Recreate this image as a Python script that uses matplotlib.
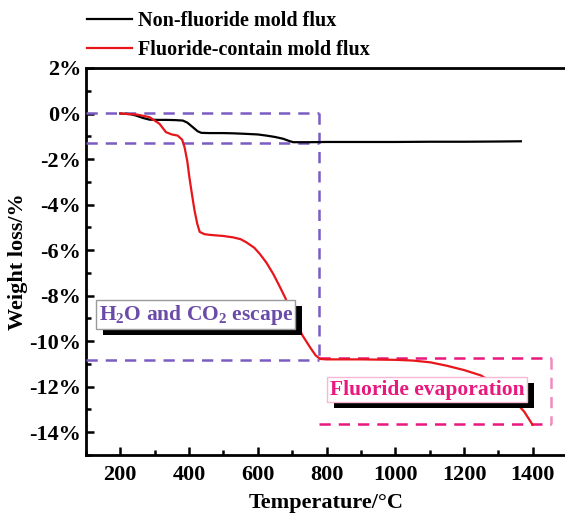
"""TGA weight loss curves for non-fluoride and fluoride-containing mold flux."""
import matplotlib
matplotlib.use("Agg")
import matplotlib.pyplot as plt
import matplotlib.transforms as mtransforms
from matplotlib.patches import Rectangle
from matplotlib.ticker import MultipleLocator, FuncFormatter

plt.rcParams['font.family'] = ['Liberation Serif', 'DejaVu Serif']
plt.rcParams['font.weight'] = 'bold'
plt.rcParams['mathtext.fontset'] = 'custom'
plt.rcParams['mathtext.rm'] = 'Liberation Serif:bold'
plt.rcParams['mathtext.it'] = 'Liberation Serif:bold'
plt.rcParams['mathtext.bf'] = 'Liberation Serif:bold'

# Non-fluoride mold flux (temperature in C, weight change in %)
temp_nf = [200, 230, 246, 265, 285, 310, 333, 360, 382, 395, 411, 425, 436, 460,
           500, 528, 560, 600, 625, 650, 674, 690, 703, 750, 800, 900, 1000,
           1100, 1200, 1300, 1365]
loss_nf = [0, -0.03, -0.09, -0.19, -0.27, -0.28, -0.28, -0.29, -0.31, -0.4, -0.6,
           -0.78, -0.85, -0.86, -0.86, -0.87, -0.89, -0.92, -0.97, -1.03, -1.11,
           -1.2, -1.26, -1.26, -1.25, -1.25, -1.25, -1.24, -1.24, -1.23, -1.22]

# Fluoride-containing mold flux
temp_f = [200, 250, 285, 314, 333, 350, 367, 380, 387, 395, 401, 408, 416, 424,
          431, 445, 460, 500, 528, 550, 567, 590, 606, 625, 645, 662, 679, 696,
          713, 730, 752, 768, 781, 800, 900, 1000, 1050, 1102, 1150, 1200, 1248,
          1300, 1345, 1375, 1399]
loss_f = [0, -0.05, -0.16, -0.45, -0.82, -0.92, -0.97, -1.15, -1.48, -2.1, -2.8,
          -3.5, -4.26, -4.85, -5.2, -5.3, -5.33, -5.38, -5.44, -5.52, -5.66, -5.9,
          -6.17, -6.55, -7.05, -7.55, -8.07, -8.65, -9.24, -9.75, -10.27, -10.62,
          -10.78, -10.8, -10.8, -10.82, -10.85, -10.93, -11.08, -11.27, -11.5,
          -11.95, -12.6, -13.1, -13.67]

labels = ['Non-fluoride mold flux', 'Fluoride-contain mold flux']

# Region markers
water_levels = [0.03, -1.3, -10.83]
water_end = 778
evap_x = [778, 1453]
evap_y = [-10.73, -13.63]

PURPLE = '#7a5cc2'
PINK = '#e8187e'
LIGHT_PINK = '#f08cc0'
DASH = (0, (4.5, 3.2))

fig = plt.figure(figsize=(5.65, 5.15), dpi=100)
ax = fig.add_axes([0.152, 0.1165, 0.852, 0.7515])

line_nf, = ax.plot(temp_nf, loss_nf, color='black', lw=1.6, zorder=4)
line_f, = ax.plot(temp_f, loss_f, color='#e8161b', lw=1.6, zorder=4)

# purple dashed guide box (H2O / CO2 escape)
for lvl in water_levels:
    ax.plot([100, water_end], [lvl, lvl], color=PURPLE, lw=1.8, ls=DASH, zorder=3)
ax.plot([water_end, water_end], [water_levels[0], water_levels[-1]],
        color=PURPLE, lw=1.8, ls=DASH, zorder=3)

# pink dashed guide box (fluoride evaporation)
for lvl in evap_y:
    ax.plot(evap_x, [lvl, lvl], color=PINK, lw=1.8, ls=DASH, zorder=3)
ax.plot([evap_x[1], evap_x[1]], evap_y, color=LIGHT_PINK, lw=1.8, ls=DASH, zorder=3)

boxes = []
boxes.append(ax.text(419, -8.84, r'H$_2$O and CO$_2$ escape', ha='center', va='center',
                     fontsize=15.5, color='#6a4ca8', zorder=6,
                     bbox=dict(boxstyle='square,pad=0.12', fc='white', ec='#9a9a9a', lw=1)))
boxes.append(ax.text(1093, -12.13, 'Fluoride evaporation', ha='center', va='center',
                     fontsize=15.5, color=PINK, zorder=6,
                     bbox=dict(boxstyle='square,pad=0.12', fc='white', ec='#f5b8d6', lw=1)))

ax.set_xlim(100, 1500)
ax.set_ylim(-15, 2)
ax.xaxis.set_major_locator(MultipleLocator(200))
ax.xaxis.set_minor_locator(MultipleLocator(100))
ax.yaxis.set_major_locator(MultipleLocator(2))
ax.yaxis.set_minor_locator(MultipleLocator(1))
ax.yaxis.set_major_formatter(FuncFormatter(lambda v, p: f'{int(round(v))}%'))

ax.tick_params(which='both', direction='in', width=1.8, labelsize=16)
ax.tick_params(which='major', length=6)
ax.tick_params(which='minor', length=3.5)
ax.tick_params(axis='x', which='major', pad=7)
for spine in ax.spines.values():
    spine.set_linewidth(2)

ax.set_xlabel('Temperature/°C', fontsize=16, fontweight='bold', labelpad=6)
ax.set_ylabel('Weight loss/%', fontsize=16, fontweight='bold', labelpad=1)

fig.legend([line_nf, line_f], labels, loc='upper left',
           bbox_to_anchor=(0.135, 1.0), frameon=False, fontsize=14.5,
           handlelength=2.2, handletextpad=0.3, labelspacing=0.45,
           borderaxespad=0.15)

# black drop shadows behind the label boxes
fig.canvas.draw()
for txt in boxes:
    ext = txt.get_bbox_patch().get_window_extent()
    ax.add_patch(Rectangle((ext.x0 + 7, ext.y0 - 6), ext.width, ext.height,
                           transform=mtransforms.IdentityTransform(),
                           fc='black', ec='none', zorder=5))

fig.savefig('out.png', dpi=100)
